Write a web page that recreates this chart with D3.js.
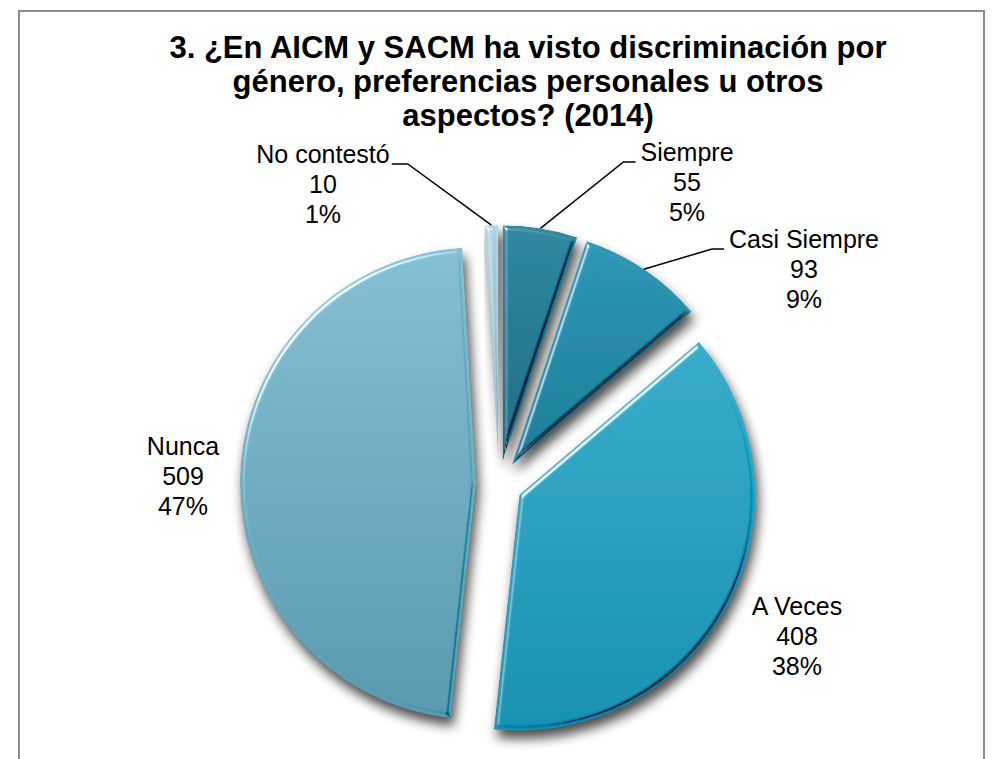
<!doctype html>
<html lang="es">
<head>
<meta charset="utf-8">
<title>Discriminación AICM y SACM 2014</title>
<script src="https://cdn.jsdelivr.net/npm/d3@7"></script>
<style>
body { margin: 0; background: #fff; }
text { font-family: "Liberation Sans", Arial, sans-serif; fill: #000; }
</style>
</head>
<body>
<div id="chart"></div>
<script>

var width = 1002;
var height = 759;

var titleLines = [
	"3. ¿En AICM y SACM ha visto discriminación por",
	"género, preferencias personales u otros",
	"aspectos? (2014)"
];
var categories = ["Siempre", "Casi Siempre", "A Veces", "Nunca", "No contestó"];
var counts = [55, 93, 408, 509, 10];

// slice colours, lighter at the top, darker at the bottom
var colorsTop = ["#3189a1", "#2f98b5", "#3badcc", "#86c0d3", "#b6d8e4"];
var colorsBottom = ["#246f85", "#227f99", "#1e93b3", "#5b9bb1", "#93bccb"];

// where each data label sits (centre x, first baseline) and which side its leader goes
var labelSpots = {
	"Siempre":      { x: 687, y: 161, leader: "left" },
	"Casi Siempre": { x: 804, y: 248, leader: "left" },
	"A Veces":      { x: 797, y: 615, leader: null },
	"Nunca":        { x: 183, y: 455, leader: null },
	"No contestó":  { x: 323, y: 163, leader: "right" }
};

var cx = 499, cy = 484, radius = 236, explode = 23;
var lineGap = 30;

var svg = d3.select("#chart").append("svg")
	.attr("width", width)
	.attr("height", height);

var defs = svg.append("defs");

// soft shadow under the slices
var shadow = defs.append("filter").attr("id", "shadow")
	.attr("x", "-20%").attr("y", "-20%").attr("width", "140%").attr("height", "140%");
shadow.append("feGaussianBlur").attr("in", "SourceAlpha").attr("stdDeviation", 6);

// bevel: light edge top-left, dark edge bottom-right
var bevel = defs.append("filter").attr("id", "bevel")
	.attr("x", "-5%").attr("y", "-5%").attr("width", "110%").attr("height", "110%");
bevel.append("feGaussianBlur").attr("in", "SourceAlpha").attr("stdDeviation", 2.2).attr("result", "blur");
var lit = bevel.append("feSpecularLighting").attr("in", "blur")
	.attr("surfaceScale", 4).attr("specularConstant", 1.3).attr("specularExponent", 35)
	.attr("lighting-color", "#e8fbff").attr("result", "hi");
lit.append("feDistantLight").attr("azimuth", 225).attr("elevation", 30);
bevel.append("feComposite").attr("in", "hi").attr("in2", "SourceAlpha").attr("operator", "in").attr("result", "hiIn");
var dark = bevel.append("feSpecularLighting").attr("in", "blur")
	.attr("surfaceScale", 4).attr("specularConstant", 1.0).attr("specularExponent", 30)
	.attr("lighting-color", "#ffffff").attr("result", "lo");
dark.append("feDistantLight").attr("azimuth", 45).attr("elevation", 30);
bevel.append("feComposite").attr("in", "lo").attr("in2", "SourceAlpha").attr("operator", "in").attr("result", "loIn");
bevel.append("feComposite").attr("in", "SourceGraphic").attr("in2", "hiIn")
	.attr("operator", "arithmetic").attr("k2", 1).attr("k3", 1).attr("result", "up");
bevel.append("feComposite").attr("in", "up").attr("in2", "loIn")
	.attr("operator", "arithmetic").attr("k2", 1).attr("k3", -0.85).attr("result", "both");
bevel.append("feComposite").attr("in", "both").attr("in2", "SourceAlpha").attr("operator", "in");

categories.forEach(function(c, i) {
	var g = defs.append("linearGradient").attr("id", "grad" + i)
		.attr("x1", 0).attr("y1", 0).attr("x2", 0).attr("y2", 1);
	g.append("stop").attr("offset", "0%").attr("stop-color", colorsTop[i]);
	g.append("stop").attr("offset", "100%").attr("stop-color", colorsBottom[i]);
});

// chart frame
svg.append("rect")
	.attr("x", 19).attr("y", 11)
	.attr("width", 965).attr("height", 770)
	.attr("fill", "#fff")
	.attr("stroke", "#8a8a8a")
	.attr("stroke-width", 2);

// title
var title = svg.append("text")
	.attr("text-anchor", "middle")
	.style("font-weight", "bold")
	.style("font-size", "31px");
title.selectAll("tspan").data(titleLines).join("tspan")
	.attr("x", 528)
	.attr("y", function(d, i) { return 58 + i * 34; })
	.text(function(d) { return d; });

var data = categories.map(function(c, i) { return { name: c, count: counts[i], idx: i }; });
var total = d3.sum(counts);

var pie = d3.pie().sort(null).value(function(d) { return d.count; });
var arcs = pie(data);
var arc = d3.arc().innerRadius(0).outerRadius(radius);

function along(d, r) {
	var a = (d.startAngle + d.endAngle) / 2;
	return [Math.sin(a) * r, -Math.cos(a) * r];
}

var pieG = svg.append("g").attr("transform", "translate(" + cx + "," + cy + ")");

pieG.append("g").selectAll("path")
	.data(arcs).join("path")
	.attr("d", arc)
	.attr("transform", function(d) { var p = along(d, explode); return "translate(" + (p[0] + 3) + "," + (p[1] + 8) + ")"; })
	.attr("fill", "#000")
	.attr("opacity", 0.7)
	.attr("filter", "url(#shadow)");

pieG.append("g").selectAll("path")
	.data(arcs).join("path")
	.attr("d", arc)
	.attr("transform", function(d) { return "translate(" + along(d, explode) + ")"; })
	.attr("fill", function(d) { return "url(#grad" + d.data.idx + ")"; })
	.attr("filter", "url(#bevel)");

// data labels and leader lines
var labelG = svg.append("g").style("font-size", "25px");

arcs.forEach(function(d) {
	var spot = labelSpots[d.data.name];
	var pct = Math.round(d.data.count / total * 100) + "%";
	var t = labelG.append("text").attr("text-anchor", "middle");
	var first = t.append("tspan").attr("x", spot.x).attr("y", spot.y).text(d.data.name);
	t.append("tspan").attr("x", spot.x).attr("y", spot.y + lineGap).text(d.data.count);
	t.append("tspan").attr("x", spot.x).attr("y", spot.y + lineGap * 2).text(pct);

	if (!spot.leader) return;
	var w = first.node().getComputedTextLength();
	var edge = along(d, explode + radius);
	var ex = cx + edge[0], ey = cy + edge[1];
	var sy = spot.y + 1, s0, s1;
	if (spot.leader == "left") {
		s0 = spot.x - w / 2 - 5;
		s1 = spot.x - w / 2 - 17;
	} else {
		s0 = spot.x + w / 2 + 2;
		s1 = spot.x + w / 2 + 18;
	}
	labelG.append("path")
		.attr("d", "M" + s0 + "," + sy + "L" + s1 + "," + sy + "L" + ex + "," + ey)
		.attr("fill", "none")
		.attr("stroke", "#000")
		.attr("stroke-width", 1.5);
});

</script>
</body>
</html>
